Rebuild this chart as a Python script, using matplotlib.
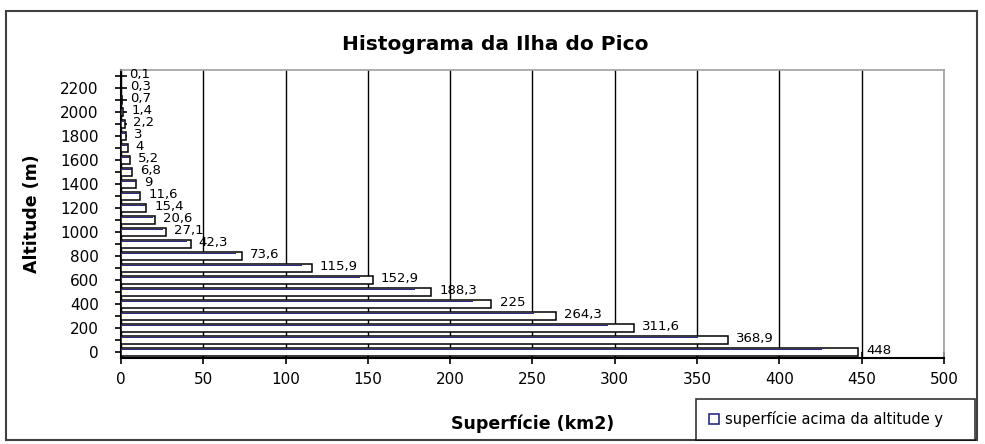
import matplotlib
matplotlib.use('Agg')
import matplotlib.pyplot as plt
from matplotlib.patches import Rectangle, Patch

plt.rcParams['font.family'] = ['DejaVu Sans']

# altitude classes (m) and surface above each altitude (km2)
altitudes = list(range(0, 2400, 100))
surface = [448, 368.9, 311.6, 264.3, 225, 188.3, 152.9, 115.9, 73.6, 42.3,
           27.1, 20.6, 15.4, 11.6, 9, 6.8, 5.2, 4, 3, 2.2, 1.4, 0.7, 0.3, 0.1]
labels = ['448', '368,9', '311,6', '264,3', '225', '188,3', '152,9', '115,9',
          '73,6', '42,3', '27,1', '20,6', '15,4', '11,6', '9', '6,8', '5,2',
          '4', '3', '2,2', '1,4', '0,7', '0,3', '0,1']
ytick_labels = [str(a) for a in range(0, 2400, 200)]

fig = plt.figure(figsize=(9.85, 4.44), dpi=100)
ax = fig.add_axes([0.1228, 0.194, 0.8356, 0.648])

pos = list(range(len(altitudes)))
ax.barh(pos, surface, height=0.72, color='white', edgecolor='black',
        linewidth=1.1, zorder=3)
# blue shading line along the top of each bar
ax.barh([p + 0.2 for p in pos], [s * 0.95 for s in surface], height=0.1,
        color='#2b2b8c', linewidth=0, zorder=4)

for p, s, lab in zip(pos, surface, labels):
    ax.text(s + 5, p + 0.1, lab, fontsize=9.5, va='center', ha='left',
            zorder=5)

ax.set_xlim(0, 500)
ax.set_ylim(-0.5, 23.5)
ax.set_xticks(range(0, 550, 50))
ax.set_yticks(pos, minor=True)
ax.set_yticks(pos[::2])
ax.set_yticklabels(ytick_labels)
ax.tick_params(axis='y', which='both', direction='inout', length=8,
               width=1.2, labelsize=11, pad=12)
ax.tick_params(axis='x', direction='inout', length=8, width=1.2,
               labelsize=11, pad=6)

ax.grid(axis='x', color='black', linewidth=1, zorder=0)
ax.set_axisbelow(True)
for side in ['left', 'bottom']:
    ax.spines[side].set_color('black')
    ax.spines[side].set_linewidth(1.5)
for side in ['top', 'right']:
    ax.spines[side].set_color('#a0a0a0')
    ax.spines[side].set_linewidth(1.2)

ax.set_xlabel('Superfície (km2)', fontsize=12.5, fontweight='bold', labelpad=20)
ax.set_ylabel('Altitude (m)', fontsize=12.5, fontweight='bold', labelpad=14)
fig.text(0.503, 0.9, 'Histograma da Ilha do Pico', fontsize=14.5,
         fontweight='bold', ha='center', va='center')

# chart area border
fig.patches.append(Rectangle((0.006, 0.01), 0.986, 0.965, transform=fig.transFigure,
                             fill=False, edgecolor='#404040', linewidth=1.5))

handle = Patch(facecolor='white', edgecolor='#2b2b8c', linewidth=1.2)
leg = fig.legend([handle], ['superfície acima da altitude y'], loc='lower left',
                 bbox_to_anchor=(0.707, 0.01, 0.283, 0.092), mode='expand',
                 fontsize=10.5, frameon=True, fancybox=False, edgecolor='black',
                 handlelength=0.7, handleheight=0.7, handletextpad=0.4,
                 borderpad=0.85, borderaxespad=0)
leg.get_frame().set_linewidth(1.2)

fig.savefig('out.png', dpi=100)
